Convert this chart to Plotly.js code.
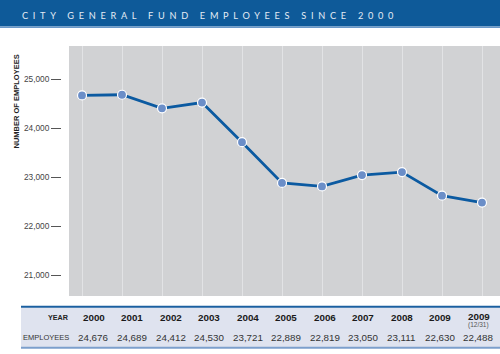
<!DOCTYPE html>
<html>
<head>
<meta charset="utf-8">
<script src="https://cdn.plot.ly/plotly-3.0.1.min.js"></script>
<style>html,body{margin:0;padding:0;background:#fff;}#chart{width:500px;height:354px;}</style>
</head>
<body>
<div id="chart"></div>
<script>
// ---- data ----
const years = ["2000","2001","2002","2003","2004","2005","2006","2007","2008","2009","2009"];
const yearNotes = ["","","","","","","","","","","(12/31)"];
const employees = [24676, 24689, 24412, 24530, 23721, 22889, 22819, 23050, 23111, 22630, 22488];
const yTicks = [21000, 22000, 23000, 24000, 25000];
const titleText = "CITY GENERAL FUND EMPLOYEES SINCE 2000";
const yTitle = "NUMBER OF EMPLOYEES";
const rowLabels = ["YEAR", "EMPLOYEES"];

// ---- helpers ----
const W = 500, H = 354;
const px = p => p / W;
const py = p => 1 - p / H;
const fmt = v => v.toLocaleString("en-US");
const cats = years.map((y, i) => yearNotes[i] ? y + " " + yearNotes[i] : y);

const FONT = "Liberation Sans, Arial, sans-serif";

const trace = {
  type: "scatter",
  mode: "lines+markers",
  x: cats,
  y: employees,
  line: {color: "#0b5aa1", width: 2.8},
  marker: {size: 9, color: "#6b8ec8", line: {color: "#ffffff", width: 1.2}},
  cliponaxis: false,
  hoverinfo: "skip"
};

const shapes = [
  {type: "rect", xref: "paper", yref: "paper", x0: 0, x1: 1, y0: py(26.5), y1: 1, fillcolor: "#0e5a99", line: {width: 0}, layer: "below"},
  {type: "rect", xref: "paper", yref: "paper", x0: 0, x1: 1, y0: py(28), y1: py(26.5), fillcolor: "#6a98c8", line: {width: 0}, layer: "below"},
  {type: "rect", xref: "paper", yref: "paper", x0: px(69), x1: 1, y0: py(296), y1: py(46), fillcolor: "#d1d2d4", line: {width: 0}, layer: "below"},
  {type: "rect", xref: "paper", yref: "paper", x0: px(21), x1: 1, y0: py(347), y1: py(307.5), fillcolor: "#dfe3ef", line: {width: 0}, layer: "below"},
  {type: "line", xref: "paper", yref: "paper", x0: px(21), x1: 1, y0: py(306.8), y1: py(306.8), line: {color: "#1b5fa0", width: 2}},
  {type: "line", xref: "paper", yref: "paper", x0: px(21), x1: 1, y0: py(347.8), y1: py(347.8), line: {color: "#7c9fcc", width: 2}}
];

const annotations = [
  {xref: "paper", yref: "paper", x: px(19.5), y: py(15), xanchor: "left", yanchor: "middle", showarrow: false,
   text: '<span style="letter-spacing:4.7px">' + titleText + '</span>',
   font: {family: "Lato, sans-serif", size: 9.2, color: "#e4ecf5"}},
  {xref: "paper", yref: "paper", x: px(16), y: py(101.5), xanchor: "center", yanchor: "middle", showarrow: false,
   textangle: -90, text: "<b>" + yTitle + "</b>", font: {family: FONT, size: 7.5, color: "#222"}},
  {xref: "paper", yref: "paper", x: px(71), y: py(317.5), xanchor: "right", yanchor: "middle", showarrow: false,
   text: "<b>" + rowLabels[0] + "</b>", font: {family: FONT, size: 7.2, color: "#222"}},
  {xref: "paper", yref: "paper", x: px(71), y: py(337.5), xanchor: "right", yanchor: "middle", showarrow: false,
   text: rowLabels[1], font: {family: FONT, size: 7.5, color: "#333"}}
];

years.forEach((y, i) => {
  const cx = px(93.5 + 38.5 * i);
  annotations.push({xref: "paper", yref: "paper", x: cx, y: py(yearNotes[i] ? 316.5 : 317.5), xanchor: "center", yanchor: "middle",
    showarrow: false, text: "<b>" + y + "</b>", font: {family: FONT, size: 9.8, color: "#1a1a1a"}});
  if (yearNotes[i]) {
    annotations.push({xref: "paper", yref: "paper", x: cx, y: py(324.5), xanchor: "center", yanchor: "middle",
      showarrow: false, text: yearNotes[i], font: {family: FONT, size: 6.5, color: "#555"}});
  }
  annotations.push({xref: "paper", yref: "paper", x: cx, y: py(337.5), xanchor: "center", yanchor: "middle",
    showarrow: false, text: fmt(employees[i]), font: {family: FONT, size: 9.8, color: "#333"}});
});

const layout = {
  width: W, height: H,
  margin: {l: 0, r: 0, t: 0, b: 0, pad: 0},
  paper_bgcolor: "#ffffff",
  plot_bgcolor: "rgba(0,0,0,0)",
  showlegend: false,
  xaxis: {
    domain: [px(62), 1],
    type: "category",
    range: [-0.5, 10.45],
    showgrid: true, gridcolor: "#e2e3e5", gridwidth: 1,
    zeroline: false, showline: false, showticklabels: false, ticks: "",
    fixedrange: true
  },
  yaxis: {
    domain: [py(296), py(46)],
    range: [20582, 25684],
    tickvals: yTicks,
    ticktext: yTicks.map(fmt),
    ticks: "outside", ticklen: 10, tickwidth: 1, tickcolor: "#555",
    tickfont: {family: FONT, size: 8.3, color: "#444"},
    showgrid: false, zeroline: false, showline: false,
    fixedrange: true
  },
  shapes: shapes,
  annotations: annotations
};

Plotly.newPlot("chart", [trace], layout, {staticPlot: true, displayModeBar: false});
</script>
</body>
</html>
